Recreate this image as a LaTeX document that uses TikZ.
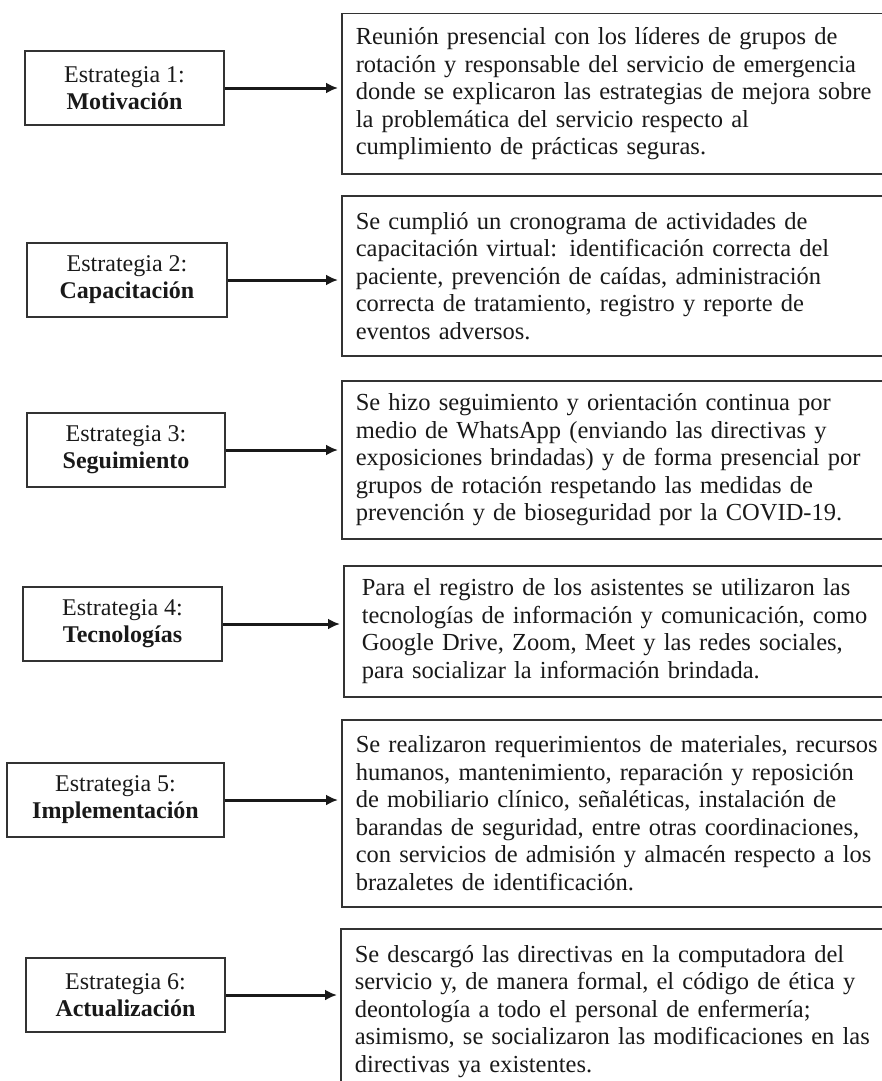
\documentclass[tikz,border=0pt]{standalone}
\usepackage{fontspec}
\setmainfont{Liberation Serif}
\usetikzlibrary{arrows.meta}

\tikzset{
  strat/.style={draw=black!80, line width=1.5pt, text=black!90, align=center,
    font=\fontsize{24}{27}\selectfont, minimum height=74pt, inner sep=4pt},
  desc/.style={draw=black!80, line width=1.5pt, text=black!90, anchor=north west,
    align=left, text width=545pt, inner xsep=14pt, inner ysep=6pt,
    font=\fontsize{24.5}{27.5}\selectfont},
  link/.style={->, line width=3pt, black!90, shorten >=3pt},
}

\begin{document}
\begin{tikzpicture}[>={Latex[length=12pt,width=11pt]}, x=1pt, y=-1pt]
	\useasboundingbox (0,0) rectangle (881,1081);
%	left column
	\node [strat, minimum width=199pt] (s1) at (124.5,88) {Estrategia 1:\\\textbf{Motivación}};
	\node [strat, minimum width=200pt] (s2) at (127,280) {Estrategia 2:\\\textbf{Capacitación}};
	\node [strat, minimum width=198pt] (s3) at (126,450) {Estrategia 3:\\\textbf{Seguimiento}};
	\node [strat, minimum width=199pt] (s4) at (122.5,624) {Estrategia 4:\\\textbf{Tecnologías}};
	\node [strat, minimum width=217pt] (s5) at (115.5,800) {Estrategia 5:\\\textbf{Implementación}};
	\node [strat, minimum width=199pt] (s6) at (125.5,995) {Estrategia 6:\\\textbf{Actualización}};
%	right column
	\node [desc, minimum height=160pt] (d1) at (341,13) {Reunión presencial con los líderes de grupos de\\
		rotación y responsable del servicio de emergencia\\
		donde se explicaron las estrategias de mejora sobre\\
		la problemática del servicio respecto al\\
		cumplimiento de prácticas seguras.};
	\node [desc, minimum height=160pt] (d2) at (341,195) {Se cumplió un cronograma de actividades de\\
		capacitación virtual: identificación correcta del\\
		paciente, prevención de caídas, administración\\
		correcta de tratamiento, registro y reporte de\\
		eventos adversos.};
	\node [desc, minimum height=158pt] (d3) at (341,380) {Se hizo seguimiento y orientación continua por\\
		medio de WhatsApp (enviando las directivas y\\
		exposiciones brindadas) y de forma presencial por\\
		grupos de rotación respetando las medidas de\\
		prevención y de bioseguridad por la COVID-19.};
	\node [desc, minimum height=131pt, inner xsep=18pt] (d4) at (343,565) {Para el registro de los asistentes se utilizaron las\\
		tecnologías de información y comunicación, como\\
		Google Drive, Zoom, Meet y las redes sociales,\\
		para socializar la información brindada.};
	\node [desc, minimum height=187pt] (d5) at (341,719) {Se realizaron requerimientos de materiales, recursos\\
		humanos, mantenimiento, reparación y reposición\\
		de mobiliario clínico, señaléticas, instalación de\\
		barandas de seguridad, entre otras coordinaciones,\\
		con servicios de admisión y almacén respecto a los\\
		brazaletes de identificación.};
	\node [desc, minimum height=165pt] (d6) at (340,928) {Se descargó las directivas en la computadora del\\
		servicio y, de manera formal, el código de ética y\\
		deontología a todo el personal de enfermería;\\
		asimismo, se socializaron las modificaciones en las\\
		directivas ya existentes.};
%	arrows
	\foreach \i in {1,...,6}
		\draw [link] (s\i.east) -- (s\i.east -| d\i.west);
\end{tikzpicture}
\end{document}
